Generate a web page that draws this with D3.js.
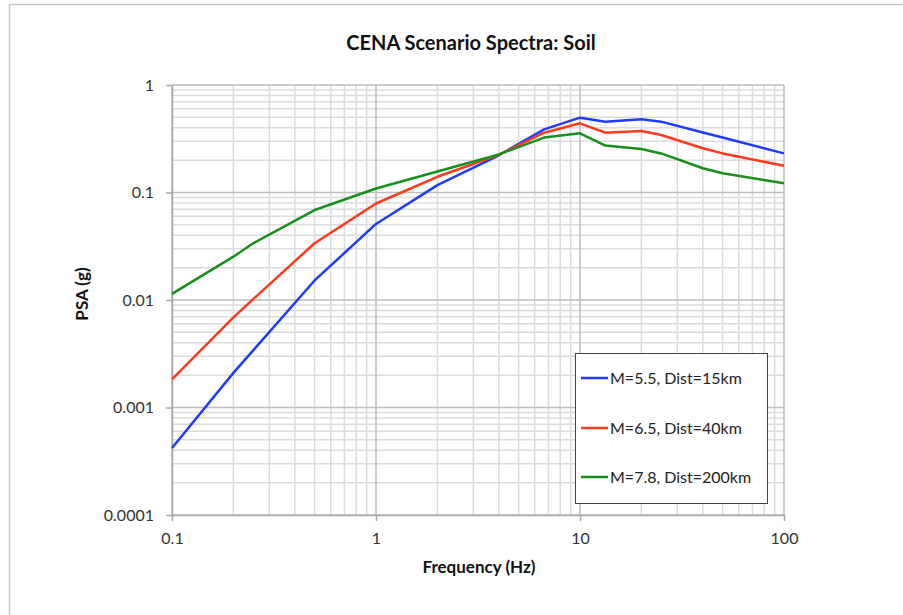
<!DOCTYPE html>
<html><head><meta charset="utf-8">
<script src="https://cdn.jsdelivr.net/npm/d3@7"></script>
<style>
body{margin:0;background:#fff;}
svg{display:block;}
text{font-family:Lato,"Open Sans",sans-serif;}
</style></head>
<body><svg id="c" width="903" height="615"></svg>
<script>
const freqs = [0.1, 0.2, 0.25, 0.5, 1, 2, 4, 6.67, 10, 13.3, 20, 25, 40, 50, 100];
const seriesNames = ["M=5.5, Dist=15km", "M=6.5, Dist=40km", "M=7.8, Dist=200km"];
const blueVals  = [0.00042, 0.0021, 0.0034, 0.0152, 0.051, 0.117, 0.222, 0.387, 0.497, 0.456, 0.48, 0.456, 0.362, 0.325, 0.231];
const redVals   = [0.00183, 0.0069, 0.0102, 0.0337, 0.079, 0.14, 0.224, 0.36, 0.44, 0.36, 0.373, 0.343, 0.258, 0.231, 0.177];
const greenVals = [0.0114, 0.0253, 0.0337, 0.0687, 0.109, 0.157, 0.226, 0.324, 0.355, 0.273, 0.254, 0.231, 0.168, 0.151, 0.122];
const seriesColors = ["#1f3bff", "#ff3a1c", "#17901a"];
const xTickVals = [0.1, 1, 10, 100];
const xTickLabels = ["0.1", "1", "10", "100"];
const yTickVals = [0.0001, 0.001, 0.01, 0.1, 1];
const yTickLabels = ["0.0001", "0.001", "0.01", "0.1", "1"];

const svg = d3.select("#c");
const x = d3.scaleLog().domain([0.1, 100]).range([172, 784]);
const y = d3.scaleLog().domain([0.0001, 1]).range([515, 85]);

// outer frame
svg.append("rect").attr("x", 9.5).attr("y", 4.5).attr("width", 1000).attr("height", 1000)
  .attr("fill", "none").attr("stroke", "#c9c9c9").attr("stroke-width", 1.5);

// grid
const minorX = [];
[0.1, 1, 10].forEach(d => { for (let k = 2; k <= 9; k++) minorX.push(d * k); });
const minorY = [];
[0.0001, 0.001, 0.01, 0.1].forEach(d => { for (let k = 2; k <= 9; k++) minorY.push(d * k); });
const g = svg.append("g");
g.selectAll(".mx").data(minorX).enter().append("line")
  .attr("x1", d => x(d)).attr("x2", d => x(d)).attr("y1", y(1)).attr("y2", y(0.0001))
  .attr("stroke", "#dcdcdc").attr("stroke-width", 1.5);
g.selectAll(".my").data(minorY).enter().append("line")
  .attr("y1", d => y(d)).attr("y2", d => y(d)).attr("x1", x(0.1)).attr("x2", x(100))
  .attr("stroke", "#dcdcdc").attr("stroke-width", 1.5);
g.selectAll(".Mx").data(xTickVals).enter().append("line")
  .attr("x1", d => x(d)).attr("x2", d => x(d)).attr("y1", y(1)).attr("y2", y(0.0001))
  .attr("stroke", "#bdbdbd").attr("stroke-width", 1.5);
g.selectAll(".My").data(yTickVals).enter().append("line")
  .attr("y1", d => y(d)).attr("y2", d => y(d)).attr("x1", x(0.1)).attr("x2", x(100))
  .attr("stroke", "#bdbdbd").attr("stroke-width", 1.5);

// axes
const yAxis = d3.axisLeft(y).tickValues(yTickVals).tickFormat((d, i) => yTickLabels[i]).tickSize(6).tickSizeOuter(0).tickPadding(12);
const ya = svg.append("g").attr("transform", `translate(${x(0.1)},0)`).call(yAxis);
const xAxis = d3.axisBottom(x).tickValues(xTickVals).tickFormat((d, i) => xTickLabels[i]).tickSize(6).tickSizeOuter(0).tickPadding(12);
const xa = svg.append("g").attr("transform", `translate(0,${y(0.0001)})`).call(xAxis);
[ya, xa].forEach(a => {
  a.select(".domain").attr("stroke", "#a8a8a8").attr("stroke-width", 1.5);
  a.selectAll(".tick line").attr("stroke", "#a8a8a8").attr("stroke-width", 1.5);
  a.selectAll(".tick text").attr("fill", "#333").style("font-size", "16px").style("font-family", "Lato, sans-serif");
});

// lines
const allVals = [blueVals, redVals, greenVals];
const line = d3.line().x((d, i) => x(freqs[i])).y(d => y(d));
allVals.forEach((vals, si) => {
  svg.append("path").datum(vals).attr("d", line).attr("fill", "none")
    .attr("stroke", seriesColors[si]).attr("stroke-width", 2.5).attr("stroke-linejoin", "round");
});

// title and axis titles
svg.append("text").attr("x", 471).attr("y", 50).attr("text-anchor", "middle")
  .style("font-size", "20px").style("font-weight", "bold").attr("fill", "#111").text("CENA Scenario Spectra: Soil");
svg.append("text").attr("x", 479).attr("y", 573).attr("text-anchor", "middle")
  .style("font-size", "17px").style("font-weight", "bold").attr("fill", "#111").text("Frequency (Hz)");
svg.append("text").attr("transform", "translate(88,294) rotate(-90)").attr("text-anchor", "middle")
  .style("font-size", "17px").style("font-weight", "bold").attr("fill", "#111").text("PSA (g)");

// legend
const lg = svg.append("g");
lg.append("rect").attr("x", 575.5).attr("y", 353.5).attr("width", 192).attr("height", 150)
  .attr("fill", "#fff").attr("stroke", "#444").attr("stroke-width", 1);
const legY = [378, 428, 477];
seriesNames.forEach((n, i) => {
  lg.append("line").attr("x1", 581).attr("x2", 608).attr("y1", legY[i]).attr("y2", legY[i])
    .attr("stroke", seriesColors[i]).attr("stroke-width", 2.5);
  lg.append("text").attr("x", 610).attr("y", legY[i]).attr("dy", "0.35em")
    .style("font-size", "16px").attr("fill", "#222").text(n);
});
</script></body></html>
